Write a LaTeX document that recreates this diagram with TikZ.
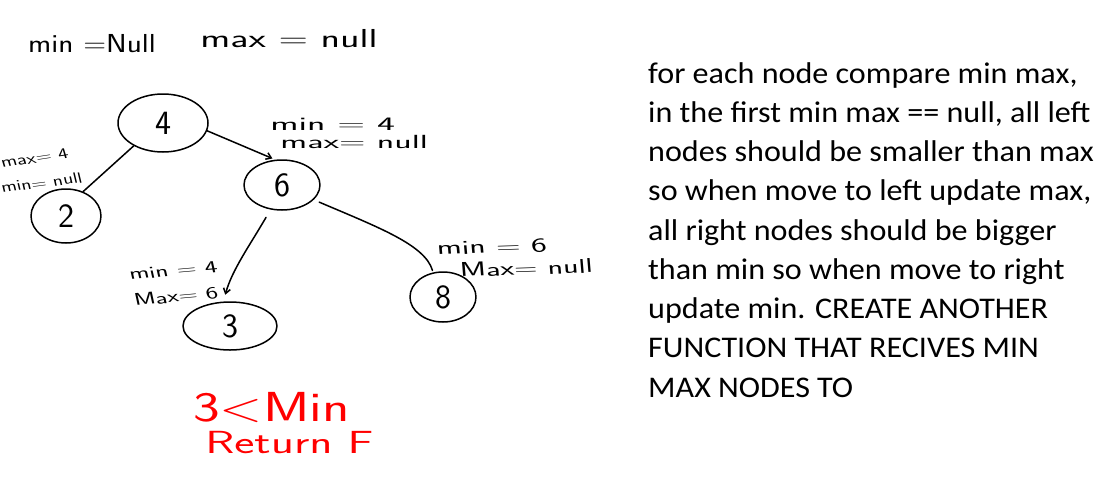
\documentclass[tikz,border=0pt]{standalone}
\usepackage{fontspec}
\newfontfamily\calib{Carlito}
\usetikzlibrary{shapes.geometric,arrows.meta}
\tikzset{
  bst/.style={ellipse,draw,line width=1.5pt,inner sep=0pt,
    font=\sffamily\fontsize{34}{34}\selectfont},
  link/.style={line width=1.5pt},
  hand/.style={inner sep=0pt,anchor=base west,
    font=\sffamily\fontsize{#1}{#1}\selectfont},
  hand/.default=18,
  redhand/.style={hand=#1,text=red},
}
\begin{document}
\begin{tikzpicture}[x=1pt,y=-1pt,line join=round,line cap=round]
  \useasboundingbox[fill=white] (0,0) rectangle (1106,499);

  % --- i nodi dell'albero
  \node[bst,minimum width=90pt,minimum height=58pt] (n4) at (163,123) {4};
  \node[bst,minimum width=76pt,minimum height=50pt] (n6) at (282,185) {6};
  \node[bst,minimum width=70pt,minimum height=54pt] (n2) at (66,216) {2};
  \node[bst,minimum width=94pt,minimum height=48pt] (n3) at (230,326) {3};
  \node[bst,minimum width=66pt,minimum height=50pt] (n8) at (443,297) {8};

  % --- archi
  \draw[link] (n4.218) -- (n2.55);
  \draw[link,-{Straight Barb[length=5pt,width=7pt]},shorten >=3pt] (n4.350) -- (n6.105);
  \draw[link,-{Straight Barb[length=5pt,width=7pt]},shorten <=9pt,shorten >=7pt]
    (n6.245) .. controls (250,245) and (232,270) .. (n3.105);
  \draw[link,shorten <=6pt,shorten >=2pt]
    (n6.335) .. controls (380,228) and (425,245) .. (n8.112);

  % --- note scritte a mano
  \node[hand=26,xscale=1.2] (lmin) at (28,52) {min =Null};
  \node[hand=26,xscale=1.55] (lmax) at (200,47) {max = null};
  \node[hand=15,xscale=1.4,rotate=12] (l2a) at (2,168) {max= 4};
  \node[hand=15,xscale=1.35,rotate=10] (l2b) at (2,193) {min= null};
  \node[hand=19,xscale=2.0] (l6a) at (270,130) {min = 4};
  \node[hand=19,xscale=1.9] (l6b) at (280,148) {max= null};
  \node[hand=17,xscale=1.6,rotate=8] (l3a) at (130,280) {min = 4};
  \node[hand=17,xscale=1.55,rotate=8] (l3b) at (135,306) {Max= 6};
  \node[hand=20,xscale=1.68,rotate=3] (l8a) at (437,255) {min = 6};
  \node[hand=20,xscale=1.6,rotate=3] (l8b) at (460,277) {Max= null};
  \node[redhand=42,xscale=1.35] (lerr) at (193,421) {3<Min};
  \node[redhand=32,xscale=1.5] (lret) at (205,453) {Return F};

  % --- spiegazione
  \node[anchor=north west,inner sep=0pt,align=left,xscale=1.07,
    font=\calib\fontsize{30}{39.25}\selectfont] (txt) at (648,62) {%
    for each node compare min max,\\
    in the first min max == null, all left\\
    nodes should be smaller than max\\
    so when move to left update max,\\
    all right nodes should be bigger\\
    than min so when move to right\\
    update min. CREATE ANOTHER\\
    FUNCTION THAT RECIVES MIN\\
    MAX NODES TO};
\end{tikzpicture}
\end{document}
